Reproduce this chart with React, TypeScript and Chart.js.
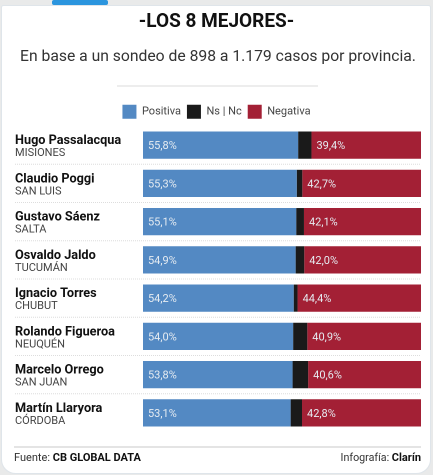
import React, { useEffect, useRef } from "react";
import { Chart, registerables } from "chart.js";

Chart.register(...registerables);

const TITLE = "-LOS 8 MEJORES-";
const SUBTITLE = "En base a un sondeo de 898 a 1.179 casos por provincia.";
const names = ["Hugo Passalacqua", "Claudio Poggi", "Gustavo Sáenz", "Osvaldo Jaldo", "Ignacio Torres", "Rolando Figueroa", "Marcelo Orrego", "Martín Llaryora"];
const provinces = ["MISIONES", "SAN LUIS", "SALTA", "TUCUMÁN", "CHUBUT", "NEUQUÉN", "SAN JUAN", "CÓRDOBA"];
const positiva = [55.8, 55.3, 55.1, 54.9, 54.2, 54.0, 53.8, 53.1];
const nsnc = [4.8, 2.0, 2.8, 3.1, 1.4, 5.1, 5.6, 4.1];
const negativa = [39.4, 42.7, 42.1, 42.0, 44.4, 40.9, 40.6, 42.8];

const FONT = "Roboto, sans-serif";
const fmt = (v: number) => v.toFixed(1).replace(".", ",") + "%";

const decor = {
  id: "decor",
  beforeDraw(c: any) {
    const g = c.ctx;
    g.save();
    g.fillStyle = "#e9eaea";
    g.fillRect(0, 0, 433, 475);
    g.fillStyle = "#2b95de";
    g.beginPath();
    g.roundRect(52, 0, 56, 5, 2);
    g.fill();
    g.fillStyle = "#ffffff";
    g.strokeStyle = "#dfe5ea";
    g.lineWidth = 1;
    g.beginPath();
    g.roundRect(1.5, 5.5, 429, 468, [2, 2, 14, 14]);
    g.fill();
    g.stroke();
    g.strokeStyle = "#dcdcdc";
    g.beginPath();
    g.moveTo(117, 86);
    g.lineTo(318, 86);
    g.stroke();
    g.lineWidth = 1.5;
    g.beginPath();
    g.moveTo(14, 447);
    g.lineTo(421, 447);
    g.stroke();
    const y = c.scales.y;
    g.strokeStyle = "#dddddd";
    g.lineWidth = 1;
    g.setLineDash([1, 1]);
    for (let i = 0; i < names.length - 1; i++) {
      const p = (y.getPixelForValue(i) + y.getPixelForValue(i + 1)) / 2;
      g.beginPath();
      g.moveTo(15, p);
      g.lineTo(421, p);
      g.stroke();
    }
    g.restore();
  },
  afterDatasetsDraw(c: any) {
    const g = c.ctx;
    const y = c.scales.y;
    g.save();
    g.textBaseline = "middle";
    g.textAlign = "center";
    g.fillStyle = "#333333";
    g.font = `400 15.7px ${FONT}`;
    g.fillText(SUBTITLE, 218, 57);
    g.textBaseline = "alphabetic";
    names.forEach((n, i) => {
      const p = y.getPixelForValue(i);
      g.textAlign = "left";
      g.fillStyle = "#111111";
      g.font = `700 12.7px ${FONT}`;
      g.fillText(n, 15, p - 1);
      g.fillStyle = "#444444";
      g.font = `400 11px ${FONT}`;
      g.fillText(provinces[i], 15, p + 11);
    });
    [0, 2].forEach((d) => {
      c.getDatasetMeta(d).data.forEach((bar: any, i: number) => {
        g.fillStyle = "#e6ecf2";
        g.font = `400 11px ${FONT}`;
        const left = bar.x - bar.width;
        g.fillText(fmt(c.data.datasets[d].data[i]), left + 5, bar.y + 4);
      });
    });
    g.fillStyle = "#333333";
    g.font = `400 11px ${FONT}`;
    g.textAlign = "left";
    g.fillText("Fuente: ", 14, 461);
    const w = g.measureText("Fuente: ").width;
    g.fillStyle = "#111111";
    g.font = `700 11px ${FONT}`;
    g.fillText("CB GLOBAL DATA", 14 + w, 461);
    g.textAlign = "right";
    g.fillText("Clarín", 421, 461);
    const cw = g.measureText("Clarín").width;
    g.fillStyle = "#333333";
    g.font = `400 10.7px ${FONT}`;
    g.fillText("Infografía: ", 421 - cw, 461);
    g.restore();
  },
};

export default function App() {
  const ref = useRef<HTMLCanvasElement>(null);
  useEffect(() => {
    document.body.style.margin = "0";
    const chart = new Chart(ref.current!, {
      type: "bar",
      data: {
        labels: names,
        datasets: [
          { label: "Positiva", data: positiva, backgroundColor: "#5389c3" },
          { label: "Ns | Nc", data: nsnc, backgroundColor: "#1a1a1a" },
          { label: "Negativa", data: negativa, backgroundColor: "#a32035" },
        ],
      },
      options: {
        indexAxis: "y",
        animation: false,
        responsive: false,
        devicePixelRatio: 2,
        layout: { padding: { top: 11, right: 12, bottom: 43, left: 12 } },
        datasets: { bar: { barPercentage: 0.71, categoryPercentage: 1 } },
        scales: {
          x: { stacked: true, display: false, min: 0, max: 100 },
          y: {
            stacked: true,
            grid: { display: false },
            border: { display: false },
            ticks: { display: false },
            afterFit: (s: any) => { s.width = 131; },
          },
        },
        plugins: {
          tooltip: { enabled: false },
          title: {
            display: true,
            text: TITLE,
            color: "#111111",
            font: { family: FONT, size: 19, weight: "bold" },
            padding: { top: 0, bottom: 65 },
          },
          legend: {
            display: true,
            position: "top",
            maxHeight: 27.2,
            labels: {
              boxWidth: 14,
              boxHeight: 14,
              padding: 6,
              color: "#444444",
              font: { family: FONT, size: 11 },
            },
          },
        },
      } as any,
      plugins: [decor],
    });
    return () => chart.destroy();
  }, []);
  return <canvas ref={ref} width={433} height={475} style={{ display: "block", width: 433, height: 475 }} />;
}
